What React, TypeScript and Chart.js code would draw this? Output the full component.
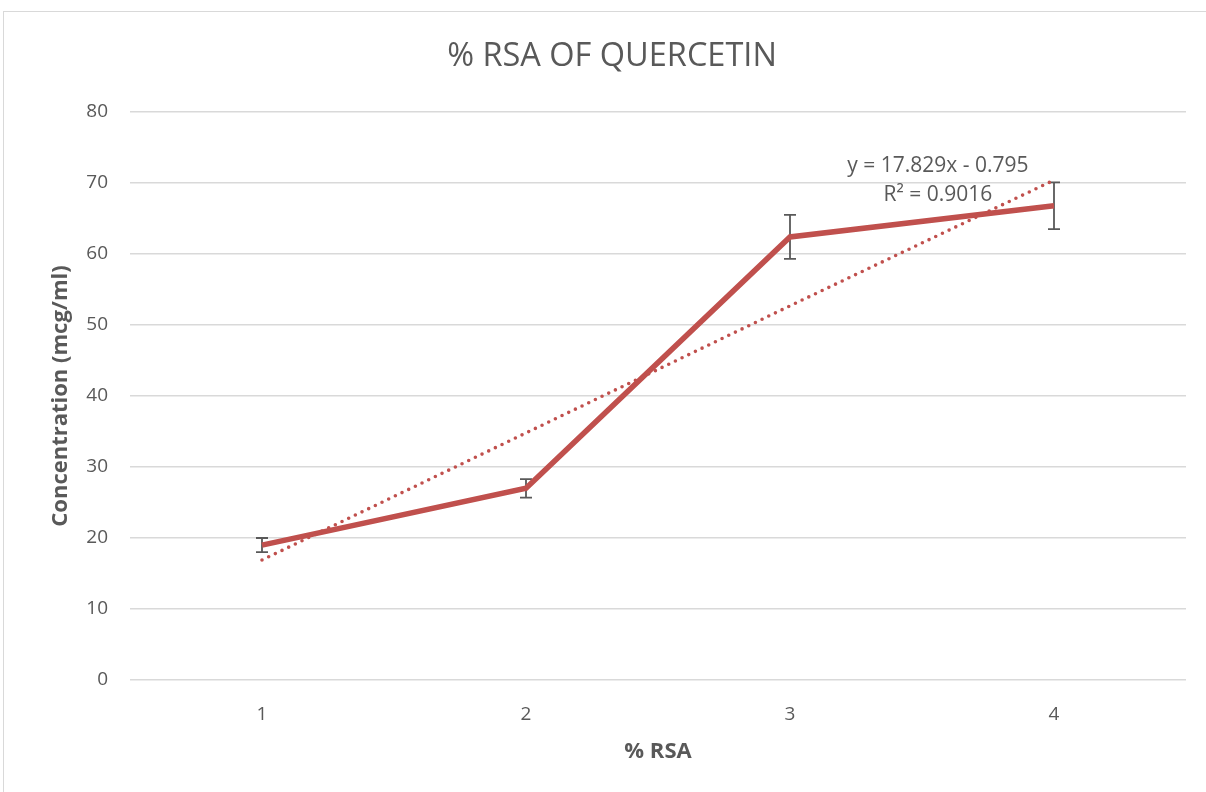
import React, { useEffect, useRef } from "react";
import { Chart, registerables } from "chart.js";

Chart.register(...registerables);

const categories = ["1", "2", "3", "4"];
const rsaValues = [19.0, 27.0, 62.4, 66.8];
const errorValues = [1.0, 1.3, 3.1, 3.3];
const trendValues = [16.9, 34.8, 52.7, 70.4];
const yTicks = [0, 10, 20, 30, 40, 50, 60, 70, 80];
const trendLabelLines = ["y = 17.829x - 0.795", "R² = 0.9016"];
const trendLabelAnchor = { index: 2.56, value: 72.4 };

const RED = "#C0504D";
const GRAY_TEXT = "#595959";
const GRID = "#d9d9d9";
const FONT = "'Open Sans', 'Noto Sans', sans-serif";

const errorBarPlugin = {
  id: "errorBars",
  beforeDatasetsDraw(chart: any) {
    const { ctx, scales } = chart;
    const x = scales.x;
    const y = scales.y;
    ctx.save();
    ctx.strokeStyle = GRAY_TEXT;
    ctx.lineWidth = 1.8;
    rsaValues.forEach((v, i) => {
      const px = x.getPixelForValue(i);
      const top = y.getPixelForValue(v + errorValues[i]);
      const bot = y.getPixelForValue(v - errorValues[i]);
      ctx.beginPath();
      ctx.moveTo(px, top);
      ctx.lineTo(px, bot);
      ctx.moveTo(px - 6, top);
      ctx.lineTo(px + 6, top);
      ctx.moveTo(px - 6, bot);
      ctx.lineTo(px + 6, bot);
      ctx.stroke();
    });
    ctx.restore();
  },
};

const trendLabelPlugin = {
  id: "trendLabel",
  afterDatasetsDraw(chart: any) {
    const { ctx, scales } = chart;
    const px = scales.x.getPixelForValue(trendLabelAnchor.index);
    const py = scales.y.getPixelForValue(trendLabelAnchor.value);
    ctx.save();
    ctx.fillStyle = GRAY_TEXT;
    ctx.font = `21px ${FONT}`;
    ctx.textAlign = "center";
    ctx.textBaseline = "middle";
    trendLabelLines.forEach((t, i) => {
      ctx.fillText(t, px, py + i * 29.5);
    });
    ctx.restore();
  },
};

export default function App() {
  const ref = useRef<HTMLCanvasElement>(null);

  useEffect(() => {
    if (!ref.current) return;
    const chart = new Chart(ref.current, {
      type: "line",
      data: {
        labels: categories,
        datasets: [
          {
            label: "% RSA",
            data: rsaValues,
            borderColor: RED,
            backgroundColor: RED,
            borderWidth: 5.5,
            pointRadius: 0,
            tension: 0,
            order: 1,
          },
          {
            label: "Linear trend",
            data: trendValues,
            borderColor: RED,
            borderWidth: 3.6,
            borderDash: [0, 7.4],
            borderCapStyle: "round",
            pointRadius: 0,
            tension: 0,
            order: 2,
          },
        ],
      },
      options: {
        responsive: false,
        devicePixelRatio: 1,
        animation: false,
        layout: { padding: { left: 34, right: 36, top: 0, bottom: 30 } },
        plugins: {
          legend: { display: false },
          tooltip: { enabled: false },
          title: {
            display: true,
            text: "% RSA OF QUERCETIN",
            color: GRAY_TEXT,
            font: { family: FONT, size: 32.5, weight: "normal", lineHeight: 1.2 },
            padding: { top: 25, bottom: 36 },
          },
        },
        scales: {
          x: {
            offset: true,
            grid: { display: false, drawTicks: false },
            border: { display: false },
            ticks: {
              color: GRAY_TEXT,
              font: { family: FONT, size: 19 },
              padding: 23,
            },
            title: {
              display: true,
              text: "% RSA",
              color: GRAY_TEXT,
              font: { family: FONT, size: 22, weight: "bold", lineHeight: 1.2 },
              padding: { top: 0, bottom: 15 },
            },
            afterFit(scale: any) {
              scale.height = 100;
            },
          },
          y: {
            min: 0,
            max: 80,
            afterBuildTicks(scale: any) {
              scale.ticks = yTicks.map((v) => ({ value: v }));
            },
            grid: { color: GRID, lineWidth: 1.5, drawTicks: false },
            border: { display: false },
            ticks: {
              color: GRAY_TEXT,
              font: { family: FONT, size: 19 },
              padding: 22,
            },
            title: {
              display: true,
              text: "Concentration (mcg/ml)",
              color: GRAY_TEXT,
              font: { family: FONT, size: 22, weight: "bold", lineHeight: 1.2 },
              padding: { top: 10, bottom: 0 },
            },
            afterFit(scale: any) {
              scale.width = 92;
            },
          },
        },
      },
      plugins: [errorBarPlugin, trendLabelPlugin],
    } as any);
    return () => chart.destroy();
  }, []);

  return (
    <div
      style={{
        position: "fixed",
        left: 0,
        top: 0,
        width: 1206,
        height: 792,
        overflow: "hidden",
        background: "#fff",
      }}
    >
      <div
        style={{
          position: "absolute",
          left: 3,
          top: 11,
          width: 1220,
          height: 800,
          border: `1.5px solid ${GRID}`,
          boxSizing: "border-box",
          background: "#fff",
        }}
      >
        <canvas ref={ref} width={1218} height={798} style={{ display: "block" }} />
      </div>
    </div>
  );
}
